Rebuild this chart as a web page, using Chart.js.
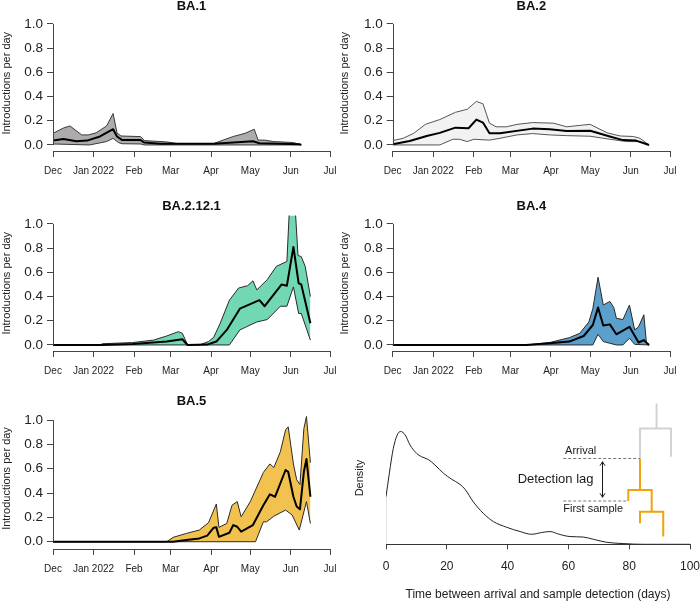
<!DOCTYPE html>
<html><head><meta charset="utf-8">
<script src="https://cdn.jsdelivr.net/npm/chart.js@4.4.1/dist/chart.umd.min.js"></script>
<style>
html,body{margin:0;padding:0;background:#fff;}
#wrap{position:relative;width:700px;height:602px;overflow:hidden;background:#fff;}
canvas{position:absolute;}
</style></head><body>
<div id="wrap">
<canvas id="c1" width="340" height="200" style="left:0;top:0;width:340px;height:200px"></canvas>
<canvas id="c2" width="362" height="200" style="left:338px;top:0;width:362px;height:200px"></canvas>
<canvas id="c3" width="340" height="190" style="left:0;top:200px;width:340px;height:190px"></canvas>
<canvas id="c4" width="362" height="190" style="left:338px;top:200px;width:362px;height:190px"></canvas>
<canvas id="c5" width="340" height="212" style="left:0;top:390px;width:340px;height:212px"></canvas>
<canvas id="c6" width="362" height="212" style="left:338px;top:390px;width:362px;height:212px"></canvas>
</div>
<script>
// ---------- axis ticks (days since 1 Dec 2021) ----------
const monthTickDays = [0, 31, 62, 90, 121, 151, 182, 212];
const monthTickLabels = ['Dec', 'Jan 2022', 'Feb', 'Mar', 'Apr', 'May', 'Jun', 'Jul'];
const rateTicks = [0, 0.2, 0.4, 0.6, 0.8, 1.0];
const lagTicks = [0, 20, 40, 60, 80, 100];

// ---------- BA.1 ----------
const ba1HiDays = [0, 8, 13, 22, 27, 33, 41, 46, 49, 52, 67, 70, 87, 95, 123, 138, 147, 154, 157, 162, 169, 184, 190];
const ba1Hi = [0.096, 0.14, 0.157, 0.083, 0.083, 0.10, 0.157, 0.26, 0.10, 0.074, 0.069, 0.036, 0.025, 0.012, 0.012, 0.07, 0.096, 0.13, 0.04, 0.04, 0.028, 0.02, 0];
const ba1MidDays = [0, 8, 18, 26, 36, 46, 49, 53, 67, 70, 82, 123, 153, 158, 189, 190];
const ba1Mid = [0.036, 0.05, 0.03, 0.036, 0.07, 0.13, 0.07, 0.04, 0.04, 0.02, 0.01, 0.01, 0.03, 0.014, 0.005, 0];
const ba1LoDays = [0, 28, 41, 46, 50, 53, 67, 70, 190];
const ba1Lo = [0.008, 0, 0.028, 0.055, 0.02, 0.01, 0.008, 0, 0];

// ---------- BA.2 ----------
const ba2HiDays = [0, 8, 16, 25, 36, 48, 57, 64, 69, 74, 79, 87, 95, 107, 123, 133, 146, 151, 164, 174, 184, 189, 196];
const ba2Hi = [0.036, 0.055, 0.096, 0.17, 0.21, 0.27, 0.295, 0.36, 0.34, 0.18, 0.15, 0.15, 0.17, 0.185, 0.18, 0.15, 0.165, 0.17, 0.10, 0.074, 0.07, 0.055, 0];
const ba2MidDays = [0, 13, 26, 36, 48, 58, 64, 69, 74, 82, 107, 120, 133, 151, 166, 176, 186, 196];
const ba2Mid = [0.005, 0.033, 0.074, 0.10, 0.143, 0.138, 0.21, 0.185, 0.096, 0.096, 0.135, 0.13, 0.116, 0.118, 0.07, 0.04, 0.036, 0];
const ba2LoDays = [0, 36, 46, 51, 57, 62, 74, 82, 95, 107, 120, 133, 151, 166, 179, 189, 196];
const ba2Lo = [0, 0, 0.047, 0.047, 0.028, 0.047, 0.04, 0.055, 0.083, 0.094, 0.083, 0.077, 0.072, 0.047, 0.028, 0.028, 0];

// ---------- BA.2.12.1 ----------
const ba2121HiDays = [0, 36, 38, 61, 77, 87, 96, 99, 103, 112, 119, 123, 128, 135, 142, 149, 153, 156, 164, 171, 179, 181.5, 185, 187.5, 190, 193, 197];
const ba2121Hi = [0, 0, 0.01, 0.02, 0.04, 0.074, 0.11, 0.096, 0, 0, 0.028, 0.063, 0.18, 0.37, 0.47, 0.49, 0.53, 0.455, 0.54, 0.65, 0.69, 1.25, 1.2, 0.74, 0.73, 0.65, 0.4];
const ba2121MidDays = [0, 36, 61, 87, 99, 103, 118, 125, 133, 143, 158, 162, 175, 179, 184, 188, 190, 197];
const ba2121Mid = [0, 0, 0.008, 0.028, 0.047, 0, 0.003, 0.028, 0.124, 0.30, 0.37, 0.32, 0.5, 0.49, 0.81, 0.51, 0.5, 0.18];
const ba2121LoDays = [0, 135, 143, 148, 156, 164, 174, 179, 184, 188, 190, 197];
const ba2121Lo = [0, 0, 0.124, 0.15, 0.19, 0.21, 0.32, 0.32, 0.48, 0.26, 0.26, 0.04];

// ---------- BA.4 ----------
const ba4HiDays = [0, 102, 120, 135, 143, 150, 153, 157, 161, 166, 169, 171, 176, 181, 185, 188, 192, 194, 196];
const ba4Hi = [0, 0, 0.02, 0.06, 0.096, 0.19, 0.30, 0.56, 0.33, 0.36, 0.31, 0.22, 0.21, 0.33, 0.124, 0.15, 0.25, 0.014, 0];
const ba4MidDays = [0, 102, 120, 135, 146, 153, 157, 161, 166, 171, 181, 188, 192, 196];
const ba4Mid = [0, 0, 0.014, 0.028, 0.074, 0.165, 0.31, 0.16, 0.17, 0.088, 0.15, 0.02, 0.04, 0];
const ba4LoDays = [0, 153, 157, 161, 166, 171, 176, 181, 185, 196];
const ba4Lo = [0, 0, 0.088, 0.028, 0.014, 0, 0, 0.055, 0.005, 0];

// ---------- BA.5 ----------
const ba5HiDays = [0, 87, 92, 102, 112, 119, 125, 127, 133, 137, 141, 144, 151, 156, 161, 166, 169, 174, 178, 180, 184, 186.5, 189, 192, 194, 197];
const ba5Hi = [0, 0, 0.036, 0.068, 0.096, 0.156, 0.31, 0.118, 0.15, 0.30, 0.33, 0.205, 0.33, 0.45, 0.57, 0.64, 0.61, 0.74, 0.92, 0.945, 0.64, 0.51, 0.47, 0.93, 1.03, 0.65];
const ba5MidDays = [0, 92, 102, 112, 118, 123, 125, 127, 135, 138, 141, 144, 153, 161, 166, 170, 178, 180, 184, 186.5, 189, 192, 194, 197];
const ba5Mid = [0, 0, 0.014, 0.027, 0.05, 0.115, 0.118, 0.04, 0.074, 0.137, 0.123, 0.082, 0.137, 0.30, 0.39, 0.37, 0.59, 0.575, 0.37, 0.29, 0.266, 0.575, 0.68, 0.37];
const ba5LoDays = [0, 155, 161, 163.5, 169, 178, 183, 188.5, 194, 197];
const ba5Lo = [0, 0, 0.164, 0.164, 0.21, 0.26, 0.22, 0.096, 0.33, 0.15];

// ---------- detection lag density ----------
const lagDays = [0, 1.1, 2.4, 3.7, 4.8, 6.3, 7.9, 10.1, 11.7, 13.9, 16.1, 18.9, 21.6, 24.3, 26, 28.7, 32, 35.3, 39.7, 44.1, 47.9, 51.2, 54, 56.7, 60.5, 64.9, 68.2, 72.6, 78, 84.6, 100];
const lagDensity = [0.0190, 0.0284, 0.0383, 0.0437, 0.0451, 0.0437, 0.0397, 0.0363, 0.0350, 0.0339, 0.0317, 0.0284, 0.0260, 0.0240, 0.0220, 0.0170, 0.0124, 0.0091, 0.0068, 0.0051, 0.0040, 0.0047, 0.0051, 0.0041, 0.0031, 0.0029, 0.0020, 0.0008, 0.0003, 0, 0];
const lagEdgeX = [0, 0];
const lagEdgeY = [0, 0.0190];

// ---------- schematic tree (days, density units) ----------
const treeGrayX = [83.55, 83.55, 93.75, 93.75, 93.75, 89.0, 89.0];
const treeGrayY = [0.0343, 0.0463, 0.0463, 0.0350, null, 0.0463, 0.0563];
const treeOrangeX = [83.55, 83.55, 83.55, 79.7, 79.7, 87.4, 87.4, 87.4, 83.55, 83.55, 91.2, 91.2];
const treeOrangeY = [0.0343, 0.0217, null, 0.0173, 0.0217, 0.0217, 0.0130, null, 0.0084, 0.0130, 0.0130, 0.0031];
const guideX = [58.3, 83.55, 83.55, 58.3, 79.7];
const guideY = [0.0343, 0.0343, null, 0.0173, 0.0173];
const noteLabels = ['Arrival', 'Detection lag', 'First sample'];
const noteX = [58.9, 43.3, 58.3];
const noteY = [0.0374, 0.0260, 0.0141];
const noteSize = [11, 13, 11];
const arrowX = [71.2, 71.2];
const arrowY = [0.0330, 0.0188];

// ---------- helpers ----------
const FONT = "'Liberation Sans', Arial, Helvetica, sans-serif";
Chart.defaults.font.family = FONT;
Chart.defaults.color = '#222';
function pts(xs, ys) { return xs.map((x, i) => ({ x: x, y: ys[i] })); }

const rAxesPlugin = {
  id: 'rAxes',
  afterDraw(chart, args, opts) {
    const ctx = chart.ctx, xs = chart.scales.x, ys = chart.scales.y, ca = chart.chartArea;
    ctx.save();
    ctx.strokeStyle = opts.color || '#444';
    ctx.lineWidth = 1;
    ctx.beginPath();
    if (opts.x) {
      const y = Math.round(ca.bottom) + 0.5;
      ctx.moveTo(xs.getPixelForValue(opts.x[0]), y);
      ctx.lineTo(xs.getPixelForValue(opts.x[1]), y);
    }
    if (opts.y) {
      const x = Math.round(ca.left) + 0.5;
      ctx.moveTo(x, ys.getPixelForValue(opts.y[0]));
      ctx.lineTo(x, ys.getPixelForValue(opts.y[1]));
    }
    ctx.stroke();
    ctx.restore();
  }
};

function bandChart(id, title, s, g) {
  return new Chart(document.getElementById(id), {
    type: 'line',
    data: { datasets: [
      { data: pts(s.loDays, s.lo), borderColor: s.edge, borderWidth: 1, order: 2, fill: false },
      { data: pts(s.hiDays, s.hi), borderColor: s.edge, borderWidth: 1, backgroundColor: s.fill, order: 1, fill: { target: 0 } },
      { data: pts(s.midDays, s.mid), borderColor: '#000', borderWidth: 2, order: 0, fill: false }
    ]},
    options: {
      responsive: false, animation: false, devicePixelRatio: 1,
      layout: { padding: { left: 0, right: g.padRight, top: 0, bottom: 0 } },
      elements: { point: { radius: 0, hitRadius: 0 }, line: { tension: 0, borderJoinStyle: 'round' } },
      plugins: {
        legend: { display: false }, tooltip: { enabled: false },
        title: { display: true, text: title, fullSize: false, color: '#111',
                 font: { size: 13, weight: 'bold', lineHeight: 1 },
                 padding: { top: g.tpt, bottom: g.tpb } },
        filler: { drawTime: 'beforeDatasetsDraw' },
        rAxes: { x: [0, 212], y: [0, 1], color: '#444' }
      },
      scales: {
        x: {
          type: 'linear', min: 0, max: 212,
          afterBuildTicks: sc => { sc.ticks = monthTickDays.map(v => ({ value: v })); },
          ticks: { autoSkip: false, maxRotation: 0, minRotation: 0, font: { size: 10 }, color: '#222', padding: 8,
                   callback: (v, i) => monthTickLabels[i] },
          grid: { drawOnChartArea: false, drawTicks: true, tickLength: 6, color: '#444' },
          border: { display: false },
          afterFit: sc => { sc.height = g.xh; sc.paddingLeft = 0; sc.paddingRight = 0; }
        },
        y: {
          type: 'linear', min: g.ymin, max: g.ymax,
          afterBuildTicks: sc => { sc.ticks = rateTicks.map(v => ({ value: v })); },
          ticks: { font: { size: 13.5 }, color: '#222', padding: 4, callback: v => Number(v).toFixed(1) },
          grid: { drawOnChartArea: false, drawTicks: true, tickLength: 6, color: '#444' },
          border: { display: false },
          title: { display: true, text: 'Introductions per day', font: { size: 11, lineHeight: 1.2 }, color: '#222', padding: { top: 0, bottom: 0 } },
          afterFit: sc => { sc.width = g.yw; sc.paddingTop = 0; sc.paddingBottom = 0; }
        }
      }
    },
    plugins: [rAxesPlugin]
  });
}

const leftTop = { yw: 53, padRight: 10, xh: 49, ymin: -0.05, ymax: 1.07, tpt: 0, tpb: 2.5 };
const rightTop = { yw: 54.7, padRight: 30, xh: 49, ymin: -0.05, ymax: 1.07, tpt: 0, tpb: 2.5 };
const leftMid = { yw: 53, padRight: 10, xh: 39, ymin: -0.05, ymax: 1.07, tpt: 0, tpb: 2.5 };
const rightMid = { yw: 54.7, padRight: 30, xh: 39, ymin: -0.05, ymax: 1.07, tpt: 0, tpb: 2.5 };
const leftBot = { yw: 53, padRight: 10, xh: 53, ymin: -0.06, ymax: 1.1, tpt: 5, tpb: 0 };

bandChart('c1', 'BA.1', { hiDays: ba1HiDays, hi: ba1Hi, midDays: ba1MidDays, mid: ba1Mid, loDays: ba1LoDays, lo: ba1Lo, fill: '#adabab', edge: '#3a3a3a' }, leftTop);
bandChart('c2', 'BA.2', { hiDays: ba2HiDays, hi: ba2Hi, midDays: ba2MidDays, mid: ba2Mid, loDays: ba2LoDays, lo: ba2Lo, fill: '#f2f2f2', edge: '#555555' }, rightTop);
bandChart('c3', 'BA.2.12.1', { hiDays: ba2121HiDays, hi: ba2121Hi, midDays: ba2121MidDays, mid: ba2121Mid, loDays: ba2121LoDays, lo: ba2121Lo, fill: '#72d8b3', edge: '#2a2a2a' }, leftMid);
bandChart('c4', 'BA.4', { hiDays: ba4HiDays, hi: ba4Hi, midDays: ba4MidDays, mid: ba4Mid, loDays: ba4LoDays, lo: ba4Lo, fill: '#5b9fcc', edge: '#2a2a2a' }, rightMid);
bandChart('c5', 'BA.5', { hiDays: ba5HiDays, hi: ba5Hi, midDays: ba5MidDays, mid: ba5Mid, loDays: ba5LoDays, lo: ba5Lo, fill: '#f2c250', edge: '#2a2a2a' }, leftBot);

// ---------- detection lag panel ----------
const lagNotesPlugin = {
  id: 'lagNotes',
  afterDatasetsDraw(chart) {
    const ctx = chart.ctx, xs = chart.scales.x, ys = chart.scales.y;
    ctx.save();
    ctx.fillStyle = '#1a1a1a';
    ctx.textAlign = 'left';
    ctx.textBaseline = 'middle';
    noteLabels.forEach((t, i) => {
      ctx.font = noteSize[i] + 'px ' + FONT;
      ctx.fillText(t, xs.getPixelForValue(noteX[i]), ys.getPixelForValue(noteY[i]));
    });
    const ax = Math.round(xs.getPixelForValue(arrowX[0])) + 0.5;
    const ay0 = ys.getPixelForValue(arrowY[0]), ay1 = ys.getPixelForValue(arrowY[1]);
    ctx.strokeStyle = '#1a1a1a';
    ctx.lineWidth = 1;
    ctx.beginPath();
    ctx.moveTo(ax, ay0); ctx.lineTo(ax, ay1);
    ctx.moveTo(ax - 2.5, ay0 + 4); ctx.lineTo(ax, ay0); ctx.lineTo(ax + 2.5, ay0 + 4);
    ctx.moveTo(ax - 2.5, ay1 - 4); ctx.lineTo(ax, ay1); ctx.lineTo(ax + 2.5, ay1 - 4);
    ctx.stroke();
    ctx.restore();
  }
};

new Chart(document.getElementById('c6'), {
  type: 'line',
  data: { datasets: [
    { data: pts(lagDays, lagDensity), borderColor: '#222', borderWidth: 1, cubicInterpolationMode: 'monotone', fill: false },
    { data: pts(lagEdgeX, lagEdgeY), borderColor: '#c8c8c8', borderWidth: 1, fill: false },
    { data: pts(guideX, guideY), borderColor: '#777', borderWidth: 1, borderDash: [3, 2], fill: false, spanGaps: false },
    { data: pts(treeGrayX, treeGrayY), borderColor: '#d2d2d2', borderWidth: 2, fill: false, clip: false, spanGaps: false, borderCapStyle: 'butt' },
    { data: pts(treeOrangeX, treeOrangeY), borderColor: '#f0a30a', borderWidth: 2, fill: false, clip: false, spanGaps: false, borderCapStyle: 'butt' }
  ]},
  options: {
    responsive: false, animation: false, devicePixelRatio: 1,
    layout: { padding: { left: 0, right: 10, top: 21.7, bottom: 0 } },
    elements: { point: { radius: 0, hitRadius: 0 }, line: { tension: 0 } },
    plugins: { legend: { display: false }, tooltip: { enabled: false }, title: { display: false },
               rAxes: { x: [0, 100], y: null, color: '#333' } },
    scales: {
      x: {
        type: 'linear', min: 0, max: 100,
        afterBuildTicks: sc => { sc.ticks = lagTicks.map(v => ({ value: v })); },
        ticks: { autoSkip: false, maxRotation: 0, font: { size: 12 }, color: '#222', padding: 10, callback: v => String(v) },
        grid: { drawOnChartArea: false, drawTicks: true, tickLength: 5, color: '#444' },
        border: { display: false },
        title: { display: true, text: 'Time between arrival and sample detection (days)', font: { size: 12, lineHeight: 1.2 }, color: '#222', padding: { top: 0, bottom: 0 } },
        afterFit: sc => { sc.height = 57.7; sc.paddingLeft = 0; sc.paddingRight = 0; }
      },
      y: {
        type: 'linear', min: 0, max: 0.053,
        ticks: { display: false },
        grid: { display: false },
        border: { display: false },
        title: { display: true, text: 'Density', font: { size: 11, lineHeight: 1.2 }, color: '#222', padding: { top: 15.4, bottom: 0 } },
        afterFit: sc => { sc.width = 48; sc.paddingTop = 0; sc.paddingBottom = 0; }
      }
    }
  },
  plugins: [rAxesPlugin, lagNotesPlugin]
});
</script>
</body></html>
